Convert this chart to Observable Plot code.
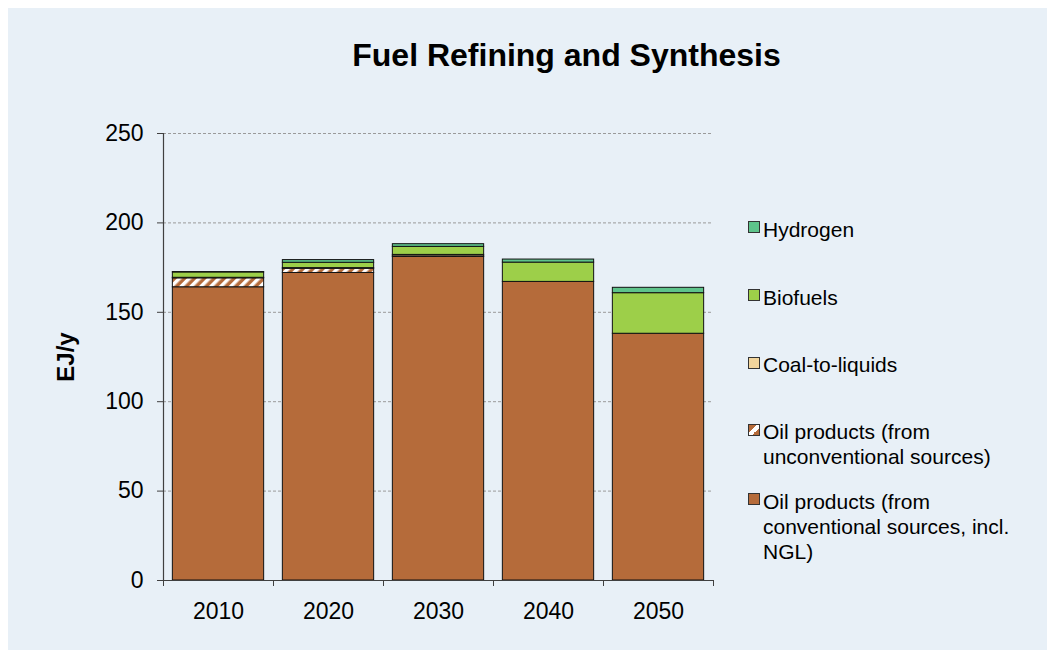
<!DOCTYPE html>
<html>
<head>
<meta charset="utf-8">
<script src="https://cdn.jsdelivr.net/npm/d3@7"></script>
<script src="https://cdn.jsdelivr.net/npm/@observablehq/plot@0.6"></script>
<style>
  html, body { margin: 0; padding: 0; background: #ffffff; }
  #wrap { position: relative; width: 1047px; height: 650px; overflow: hidden; font-family: "Liberation Sans", Arial, sans-serif; color: #000; }
  #panel { position: absolute; left: 8px; top: 8px; width: 1039px; height: 642px; background: #e8f0f7; }
  #chart { position: absolute; left: 0; top: 0; }
  #title { position: absolute; left: 266px; width: 601px; top: 37px; text-align: center; font-size: 32px; font-weight: bold; line-height: 36px; white-space: nowrap; }
  .leg { position: absolute; left: 763px; font-size: 21px; line-height: 25px; white-space: nowrap; }
  .sw { position: absolute; left: 748px; width: 10px; height: 10px; border: 1px solid #333; }
</style>
</head>
<body>
<div id="wrap">
  <div id="panel"></div>
  <div id="chart"></div>
  <div id="title">Fuel Refining and Synthesis</div>
  <div id="legend"></div>
</div>
<script>
// ---- data ----
const years = ["2010", "2020", "2030", "2040", "2050"];
const oilConventional = [164, 172, 181, 167, 138];
const oilUnconventional = [5, 2.3, 0.3, 0, 0];
const coalToLiquids = [0.3, 0.4, 0.8, 0, 0];
const biofuels = [3, 3, 4.5, 10.8, 22.7];
const hydrogen = [0.2, 1.5, 1.5, 1.7, 3];
const yTicks = [0, 50, 100, 150, 200, 250];
const seriesNames = [
  "Oil products (from conventional sources, incl. NGL)",
  "Oil products (from unconventional sources)",
  "Coal-to-liquids",
  "Biofuels",
  "Hydrogen"
];
const seriesColors = ["#b56b3a", "url(#hatch)", "#f2d59c", "#9dcf49", "#5ec48b"];
const seriesValues = [oilConventional, oilUnconventional, coalToLiquids, biofuels, hydrogen];

// ---- stacking ----
const cum = years.map(() => 0);
const seriesRows = seriesValues.map((vals, s) => {
  const rows = [];
  vals.forEach((v, i) => {
    const y1 = cum[i], y2 = cum[i] + v;
    cum[i] = y2;
    if (v > 0) rows.push({i, year: years[i], series: seriesNames[s], y1, y2});
  });
  return rows;
});

const barMarks = seriesRows.map((rows, s) => Plot.rectY(rows, {
  x1: d => d.i + 0.085,
  x2: d => d.i + 0.915,
  y1: "y1",
  y2: "y2",
  fill: seriesColors[s],
  stroke: "#111",
  strokeWidth: 1
}));

const plot = Plot.plot({
  width: 1047,
  height: 650,
  marginLeft: 163,
  marginRight: 334,
  marginTop: 133,
  marginBottom: 70,
  style: { background: "transparent", fontFamily: "'Liberation Sans', Arial, sans-serif", fontSize: "23px", color: "#000" },
  x: { domain: [0, 5], axis: null },
  y: { domain: [0, 250], axis: null },
  marks: [
    Plot.gridY(yTicks.filter(t => t > 0), { stroke: "#9a9a9a", strokeOpacity: 1, strokeDasharray: "3,2", strokeWidth: 1 }),
    ...barMarks,
    Plot.ruleX([0], { y1: 0, y2: 250, stroke: "#404040", strokeWidth: 1.2 }),
    Plot.ruleY([0], { x1: 0, x2: 5, stroke: "#404040", strokeWidth: 1.2 }),
    Plot.axisY({ ticks: yTicks, tickSize: 6, tickPadding: 14, stroke: "#404040", fontSize: 23, label: null }),
    Plot.axisX({ ticks: d3.range(0, years.length + 1), tickSize: 6, tickFormat: () => "", stroke: "#404040", label: null }),
    Plot.axisX({ ticks: years.map((_, i) => i + 0.5), tickSize: 0, tickPadding: 22, tickFormat: t => years[Math.round(t - 0.5)], fontSize: 23, label: null }),
    Plot.text(["EJ/y"], { frameAnchor: "left", textAnchor: "middle", rotate: -90, dx: -97, fontSize: 24, fontWeight: "bold" })
  ]
});

// hatch pattern
const svg = d3.select(plot);
const defs = svg.insert("defs", ":first-child");
const pat = defs.append("pattern")
  .attr("id", "hatch")
  .attr("patternUnits", "userSpaceOnUse")
  .attr("width", 7).attr("height", 7)
  .attr("patternTransform", "rotate(45)");
pat.append("rect").attr("width", 7).attr("height", 7).attr("fill", "#b56b3a");
pat.append("rect").attr("width", 3.5).attr("height", 7).attr("fill", "#ffffff");

document.getElementById("chart").appendChild(plot);

// ---- legend (HTML) ----
const legendItems = [
  { lines: ["Hydrogen"], top: 217, sw: 221, color: "#5ec48b" },
  { lines: ["Biofuels"], top: 284.5, sw: 289, color: "#9dcf49" },
  { lines: ["Coal-to-liquids"], top: 352, sw: 356.5, color: "#f2d59c" },
  { lines: ["Oil products (from", "unconventional sources)"], top: 419, sw: 423.5, color: "hatch" },
  { lines: ["Oil products (from", "conventional sources, incl.", "NGL)"], top: 488.5, sw: 493, color: "#b56b3a" }
];
const legend = document.getElementById("legend");
legendItems.forEach(it => {
  const sw = document.createElement("div");
  sw.className = "sw";
  sw.style.top = it.sw + "px";
  if (it.color === "hatch") {
    sw.style.background = "linear-gradient(135deg, #b56b3a 0%, #b56b3a 35%, #ffffff 35%, #ffffff 65%, #b56b3a 65%, #b56b3a 100%)";
  } else {
    sw.style.background = it.color;
  }
  legend.appendChild(sw);
  const t = document.createElement("div");
  t.className = "leg";
  t.style.top = it.top + "px";
  t.innerHTML = it.lines.join("<br>");
  legend.appendChild(t);
});
</script>
</body>
</html>
